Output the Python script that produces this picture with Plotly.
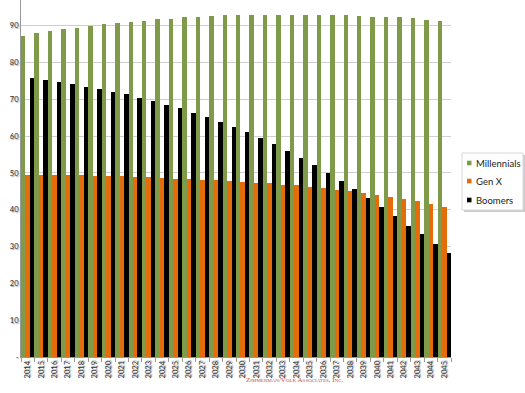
import plotly.graph_objects as go

years = [str(y) for y in range(2014, 2046)]

millennials = [87.3, 88.0, 88.5, 89.0, 89.4, 89.9, 90.4, 90.8, 90.9, 91.4, 91.8, 91.9,
               92.3, 92.5, 92.7, 92.8, 92.9, 93.0, 93.0, 93.0, 93.0, 93.0, 92.9, 92.9,
               92.8, 92.6, 92.5, 92.4, 92.3, 92.0, 91.7, 91.4]
genx = [49.4, 49.4, 49.4, 49.4, 49.4, 49.3, 49.3, 49.2, 49.0, 48.9, 48.7, 48.5,
        48.3, 48.1, 48.0, 47.7, 47.6, 47.4, 47.2, 46.8, 46.6, 46.2, 45.8, 45.4,
        45.0, 44.6, 44.0, 43.4, 42.9, 42.4, 41.5, 40.7]
boomers = [75.7, 75.3, 74.7, 74.1, 73.4, 72.7, 72.1, 71.4, 70.5, 69.6, 68.5, 67.6,
           66.4, 65.2, 63.9, 62.6, 61.0, 59.4, 57.9, 56.1, 54.1, 52.2, 49.9, 47.7,
           45.6, 43.2, 40.8, 38.3, 35.7, 33.3, 30.8, 28.3]

series_names = ["Millennials", "Gen X", "Boomers"]
colors = ["#7F9A48", "#E46C0A", "#000000"]

ytick_vals = [0, 10, 20, 30, 40, 50, 60, 70, 80, 90]
ytick_text = ["-", "10", "20", "30", "40", "50", "60", "70", "80", "90"]

W, H = 525, 393
ML, MR, MT, MB = 21, 74, 0, 36
plot_w = W - ML - MR
plot_h = H - MT - MB


def px(x):
    return (x - ML) / plot_w


def py(y):
    return (H - MB - y) / plot_h


fig = go.Figure()
for name, vals, col in zip(series_names, [millennials, genx, boomers], colors):
    fig.add_trace(go.Bar(x=years, y=vals, name=name, showlegend=False,
                         marker=dict(color=col, line=dict(width=0))))

shadow = "1px 1px 1px #999"

shapes = []
annotations = []
# manual legend box with shadow
shapes.append(dict(type="rect", xref="paper", yref="paper",
                   x0=px(464), x1=px(525), y0=py(155), y1=py(212),
                   fillcolor="#cccccc", line=dict(width=0), layer="above"))
shapes.append(dict(type="rect", xref="paper", yref="paper",
                   x0=px(462), x1=px(523), y0=py(153), y1=py(210),
                   fillcolor="white", line=dict(color="#d8d8d8", width=1), layer="above"))
for name, col, cy in zip(series_names, colors, [163, 181, 200]):
    shapes.append(dict(type="rect", xref="paper", yref="paper",
                       x0=px(467), x1=px(471.5), y0=py(cy - 2.3), y1=py(cy + 2.3),
                       fillcolor=col, line=dict(width=0), layer="above"))
    annotations.append(dict(text=name, x=px(473.5), y=py(cy), xref="paper", yref="paper",
                            xanchor="left", yanchor="middle", showarrow=False,
                            font=dict(size=9.5, color="#222", family="Lato, sans-serif")))

annotations.append(dict(
    text="Z<span style='font-size:5px'>IMMERMAN</span>/V<span style='font-size:5px'>OLK</span> A<span style='font-size:5px'>SSOCIATES</span>, I<span style='font-size:5px'>NC</span>.",
    x=px(295), xref="paper", y=py(386), yref="paper",
    showarrow=False, font=dict(family="Liberation Serif, serif", size=7, color="#C0504D"),
))

fig.update_layout(
    width=W, height=H,
    margin=dict(l=ML, r=MR, t=MT, b=MB, autoexpand=False),
    paper_bgcolor="white", plot_bgcolor="white",
    barmode="group", bargap=0, bargroupgap=0,
    font=dict(family="Lato, DejaVu Sans, sans-serif", color="#333"),
    showlegend=False,
    xaxis=dict(
        type="category", tickangle=-90, automargin=False,
        tickfont=dict(size=7.5, color="#333", shadow=shadow),
        showline=True, linecolor="#999", linewidth=1,
        ticks="outside", ticklen=4, tickcolor="#999", tickson="boundaries",
        showgrid=False,
    ),
    yaxis=dict(
        range=[0, 97], tickvals=ytick_vals, ticktext=ytick_text, automargin=False,
        tickfont=dict(size=7.5, color="#333", shadow=shadow),
        showline=True, linecolor="#999", linewidth=1,
        showgrid=True, gridcolor="#cfcfcf", gridwidth=1,
        ticks="", zeroline=False,
    ),
    shapes=shapes,
    annotations=annotations,
)

fig.write_html("out.html",
               config={"displayModeBar": False},
               post_script="document.body.style.margin='0';document.body.style.overflow='hidden';")
